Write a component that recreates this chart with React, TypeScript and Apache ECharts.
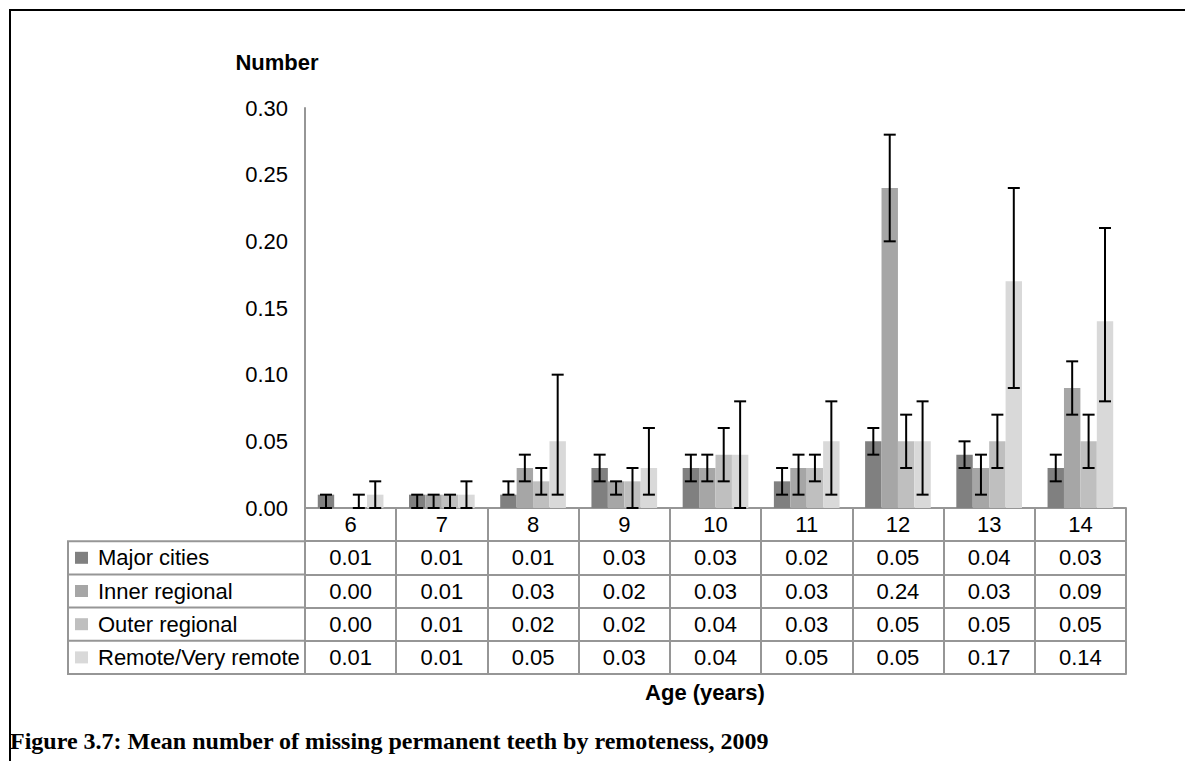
import React, { useEffect, useRef } from "react";
import * as echarts from "echarts";

const ages = ["6", "7", "8", "9", "10", "11", "12", "13", "14"];
const seriesNames = ["Major cities", "Inner regional", "Outer regional", "Remote/Very remote"];
const colors = ["#808080", "#a6a6a6", "#bfbfbf", "#d9d9d9"];

const majorCities = [0.01, 0.01, 0.01, 0.03, 0.03, 0.02, 0.05, 0.04, 0.03];
const innerRegional = [0.0, 0.01, 0.03, 0.02, 0.03, 0.03, 0.24, 0.03, 0.09];
const outerRegional = [0.0, 0.01, 0.02, 0.02, 0.04, 0.03, 0.05, 0.05, 0.05];
const remote = [0.01, 0.01, 0.05, 0.03, 0.04, 0.05, 0.05, 0.17, 0.14];

const majorLow = [0.0, 0.0, 0.01, 0.02, 0.02, 0.01, 0.04, 0.03, 0.02];
const majorHigh = [0.01, 0.01, 0.02, 0.04, 0.04, 0.03, 0.06, 0.05, 0.04];
const innerLow = [null, 0.0, 0.02, 0.01, 0.02, 0.01, 0.2, 0.01, 0.07];
const innerHigh = [null, 0.01, 0.04, 0.02, 0.04, 0.04, 0.28, 0.04, 0.11];
const outerLow = [0.0, 0.0, 0.01, 0.0, 0.02, 0.02, 0.03, 0.03, 0.03];
const outerHigh = [0.01, 0.01, 0.03, 0.03, 0.06, 0.04, 0.07, 0.07, 0.07];
const remoteLow = [0.0, 0.0, 0.01, 0.01, 0.0, 0.01, 0.01, 0.09, 0.08];
const remoteHigh = [0.02, 0.02, 0.1, 0.06, 0.08, 0.08, 0.08, 0.24, 0.21];

const yTicks = { min: 0, max: 0.3, interval: 0.05 };

const values = [majorCities, innerRegional, outerRegional, remote];
const lows = [majorLow, innerLow, outerLow, remoteLow];
const highs = [majorHigh, innerHigh, outerHigh, remoteHigh];

const FONT = "Liberation Sans, Arial, sans-serif";
const FS = 22;
const LINE = "#969696";
const GRID = { left: 305, top: 108, width: 821, height: 400 };
const ROW_H = 33.2;
const CAT_GAP = 0.28;

export default function App() {
  const ref = useRef<HTMLDivElement>(null);

  useEffect(() => {
    if (!ref.current) return;
    const chart = echarts.init(ref.current, null, { renderer: "svg" });

    const barSeries = values.map((vals, k) => ({
      name: seriesNames[k],
      type: "bar",
      xAxisIndex: 0,
      yAxisIndex: 0,
      data: vals,
      barGap: "0%",
      barCategoryGap: CAT_GAP * 100 + "%",
      itemStyle: { color: colors[k] },
      z: 2,
    }));

    const errSeries = values.map((_, k) => ({
      name: seriesNames[k] + " CI",
      type: "custom",
      xAxisIndex: 0,
      yAxisIndex: 0,
      z: 5,
      encode: { x: 0, y: [1, 2] },
      data: lows[k]
        .map((lo, i) => (lo === null ? null : [i, lo, highs[k][i]]))
        .filter((d) => d !== null),
      renderItem: (params: any, api: any) => {
        const idx = api.value(0);
        const top = api.coord([idx, api.value(2)]);
        const bot = api.coord([idx, api.value(1)]);
        const band = api.size([1, 0])[0];
        const bw = (band * (1 - CAT_GAP)) / 4;
        const x = top[0] + (k - 1.5) * bw;
        const cap = 6;
        const st = { stroke: "#000", lineWidth: 2 };
        return {
          type: "group",
          children: [
            { type: "line", shape: { x1: x, y1: top[1], x2: x, y2: bot[1] }, style: st },
            { type: "line", shape: { x1: x - cap, y1: top[1], x2: x + cap, y2: top[1] }, style: st },
            { type: "line", shape: { x1: x - cap, y1: bot[1], x2: x + cap, y2: bot[1] }, style: st },
          ],
        };
      },
    }));

    const tableAxis = (k: number, showLabel: boolean, showTick: boolean, rowVals?: number[]) => ({
      type: "category",
      gridIndex: 0,
      data: ages,
      position: "bottom",
      offset: k * ROW_H,
      axisLine: { show: true, onZero: false, lineStyle: { color: LINE, width: 2 } },
      axisTick: {
        show: showTick,
        interval: 0,
        alignWithLabel: false,
        length: ROW_H,
        lineStyle: { color: LINE, width: 2 },
      },
      axisLabel: {
        show: showLabel,
        interval: 0,
        margin: ROW_H / 2,
        verticalAlign: "middle",
        color: "#000",
        fontSize: FS,
        fontFamily: FONT,
        formatter: rowVals ? (_v: string, i: number) => rowVals[i].toFixed(2) : (v: string) => v,
      },
      splitLine: { show: false },
    });

    const xAxes = [
      tableAxis(0, true, true),
      tableAxis(1, true, true, values[0]),
      tableAxis(2, true, true, values[1]),
      tableAxis(3, true, true, values[2]),
      tableAxis(4, true, true, values[3]),
      tableAxis(5, false, false),
    ];

    const labelColTop = GRID.top + GRID.height + ROW_H;
    const labelColLeft = 68;

    chart.setOption({
      animation: false,
      backgroundColor: "#fff",
      grid: { ...GRID, containLabel: false },
      legend: {
        orient: "vertical",
        left: 75,
        top: labelColTop + ROW_H / 2 - 11,
        padding: 0,
        itemWidth: 13,
        itemHeight: 12,
        itemGap: ROW_H - 22,
        icon: "rect",
        selectedMode: false,
        data: seriesNames,
        textStyle: { fontSize: FS, fontFamily: FONT, color: "#000", lineHeight: 22, padding: [0, 0, 0, 5] },
      },
      xAxis: xAxes,
      yAxis: {
        type: "value",
        gridIndex: 0,
        min: yTicks.min,
        max: yTicks.max,
        interval: yTicks.interval,
        axisLine: { show: true, lineStyle: { color: LINE, width: 2 } },
        axisTick: { show: false },
        splitLine: { show: false },
        axisLabel: {
          margin: 17,
          color: "#000",
          fontSize: FS,
          fontFamily: FONT,
          formatter: (v: number) => v.toFixed(2),
        },
      },
      graphic: [
        {
          type: "rect",
          shape: { x: 10, y: 10, width: 1400, height: 1000 },
          style: { fill: "none", stroke: "#000", lineWidth: 2 },
          silent: true,
        },
        {
          type: "rect",
          shape: { x: labelColLeft, y: labelColTop, width: GRID.left - labelColLeft, height: ROW_H * 4 },
          style: { fill: "none", stroke: LINE, lineWidth: 2 },
          silent: true,
        },
        ...[1, 2, 3].map((r) => ({
          type: "line",
          shape: { x1: labelColLeft, y1: labelColTop + r * ROW_H, x2: GRID.left, y2: labelColTop + r * ROW_H },
          style: { stroke: LINE, lineWidth: 2 },
          silent: true,
        })),
        {
          type: "text",
          x: 277,
          y: 62,
          style: { text: "Number", font: "bold 22px " + FONT, fill: "#000", textAlign: "center", textVerticalAlign: "middle" },
        },
        {
          type: "text",
          x: 705,
          y: 692,
          style: { text: "Age (years)", font: "bold 22px " + FONT, fill: "#000", textAlign: "center", textVerticalAlign: "middle" },
        },
        {
          type: "text",
          x: 10,
          y: 741,
          style: {
            text: "Figure 3.7: Mean number of missing permanent teeth by remoteness, 2009",
            font: "bold 24px 'Liberation Serif', serif",
            fill: "#000",
            textAlign: "left",
            textVerticalAlign: "middle",
          },
        },
      ],
      series: [...barSeries, ...errSeries],
    });

    return () => chart.dispose();
  }, []);

  return (
    <div
      ref={ref}
      style={{ position: "fixed", left: 0, top: 0, width: 1185, height: 761, background: "#fff" }}
    />
  );
}
